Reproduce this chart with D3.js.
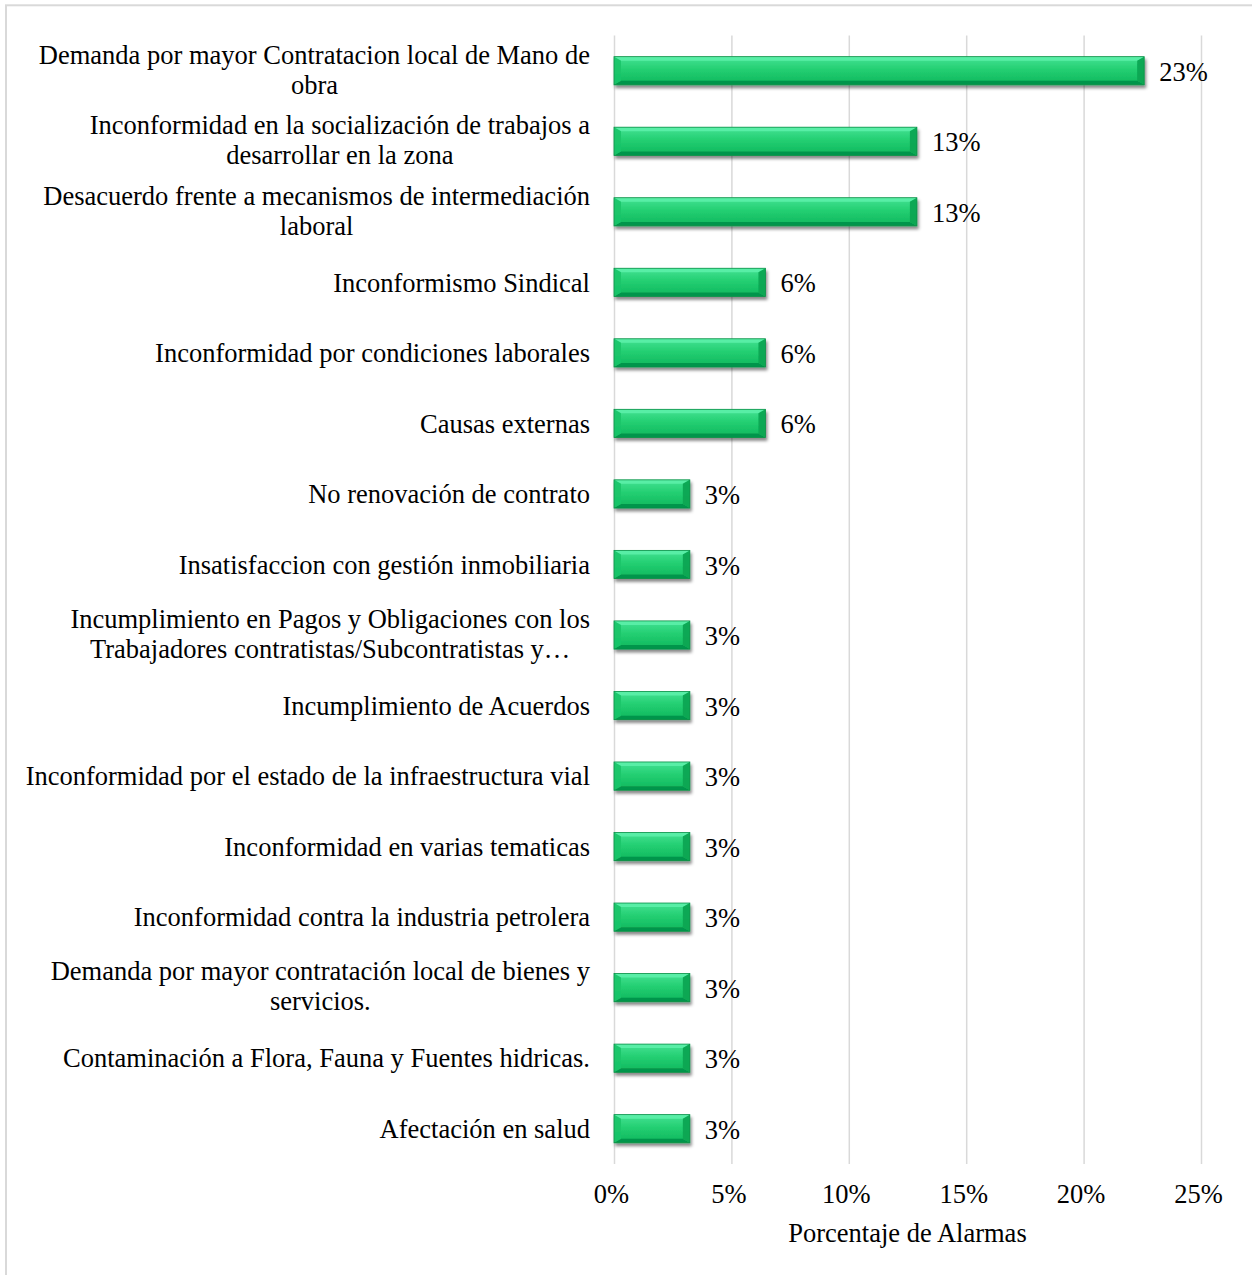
<!DOCTYPE html>
<html lang="es">
<head>
<meta charset="utf-8">
<title>Porcentaje de Alarmas</title>
<script src="https://cdn.jsdelivr.net/npm/d3@7/dist/d3.min.js"></script>
<style>
  html, body { margin: 0; padding: 0; background: #ffffff; }
  svg { display: block; }
  text { font-family: "Liberation Serif", "Times New Roman", Times, serif; fill: #000; }
</style>
</head>
<body>
<svg id="chart" width="1252" height="1275"></svg>
<script>
// Causes of alarms (top to bottom); "\n" marks a manual line break.
const categories = [
  "Demanda por mayor Contratacion local de Mano de\nobra",
  "Inconformidad en la socialización de trabajos a\ndesarrollar en la zona",
  "Desacuerdo frente a mecanismos de intermediación\nlaboral",
  "Inconformismo Sindical",
  "Inconformidad por condiciones laborales",
  "Causas externas",
  "No renovación de contrato",
  "Insatisfaccion con gestión inmobiliaria",
  "Incumplimiento en Pagos y Obligaciones con los\nTrabajadores contratistas/Subcontratistas y…",
  "Incumplimiento de Acuerdos",
  "Inconformidad por el estado de la infraestructura vial",
  "Inconformidad en varias tematicas",
  "Inconformidad contra la industria petrolera",
  "Demanda por mayor contratación local de bienes y\nservicios.",
  "Contaminación a Flora, Fauna y Fuentes hidricas.",
  "Afectación en salud"
];

// Share of alarms per cause, in percent
const percentages = [22.58, 12.90, 12.90, 6.45, 6.45, 6.45, 3.23, 3.23, 3.23, 3.23, 3.23, 3.23, 3.23, 3.23, 3.23, 3.23];

// Axis ticks (percent)
const xTicks = [0, 5, 10, 15, 20, 25];
const xTitle = "Porcentaje de Alarmas";

const svg = d3.select("#chart");
const FONT = 26.5;

// Plot frame
const plot = { left: 614, right: 1201, top: 35.5, bottom: 1164 };

const x = d3.scaleLinear().domain([0, 25]).range([plot.left, plot.right]);
const y = d3.scaleBand()
  .domain(d3.range(categories.length))
  .range([plot.top, plot.bottom])
  .paddingInner(0.6)
  .paddingOuter(0.3);

// Outer chart border
svg.append("rect")
  .attr("x", 6).attr("y", 5.3)
  .attr("width", 1270).attr("height", 1290)
  .attr("fill", "none")
  .attr("stroke", "#d9d9d9")
  .attr("stroke-width", 2);

// Definitions: face gradient and drop shadow for the bevelled bars
const defs = svg.append("defs");
const grad = defs.append("linearGradient")
  .attr("id", "barFace").attr("x1", 0).attr("y1", 0).attr("x2", 0).attr("y2", 1);
grad.append("stop").attr("offset", "0%").attr("stop-color", "#44e294");
grad.append("stop").attr("offset", "45%").attr("stop-color", "#24cf72");
grad.append("stop").attr("offset", "100%").attr("stop-color", "#0eb65c");

const shadow = defs.append("filter")
  .attr("id", "barShadow")
  .attr("x", "-10%").attr("y", "-30%").attr("width", "130%").attr("height", "180%");
shadow.append("feDropShadow")
  .attr("dx", 1.5).attr("dy", 3)
  .attr("stdDeviation", 1.8)
  .attr("flood-color", "#000")
  .attr("flood-opacity", 0.45);

// Vertical gridlines
const grid = d3.axisBottom(x)
  .tickValues(xTicks)
  .tickSize(-(plot.bottom - plot.top))
  .tickFormat("");
svg.append("g")
  .attr("transform", `translate(0,${plot.bottom})`)
  .call(grid)
  .call(g => g.select(".domain").remove())
  .call(g => g.selectAll("line").attr("stroke", "#d9d9d9").attr("stroke-width", 1.5));

// Tick labels
const axis = d3.axisBottom(x)
  .tickValues(xTicks)
  .tickSize(0)
  .tickPadding(0)
  .tickFormat(d => d + "%");
svg.append("g")
  .attr("transform", `translate(-3,${1203})`)
  .call(axis)
  .call(g => g.select(".domain").remove())
  .call(g => g.selectAll("text")
    .attr("y", 0).attr("dy", 0)
    .attr("font-size", FONT)
    .attr("font-family", "Liberation Serif, Times New Roman, serif")
    .attr("fill", "#000"));

// Axis title
svg.append("text")
  .attr("x", (plot.left + plot.right) / 2)
  .attr("y", 1242)
  .attr("text-anchor", "middle")
  .attr("font-size", FONT)
  .text(xTitle);

// Bars with a bevelled look
const bevelX = 7, bevelTop = 4, bevelBottom = 4;
const bars = svg.append("g").selectAll("g")
  .data(percentages)
  .join("g")
  .attr("filter", "url(#barShadow)");

bars.each(function (v, i) {
  const g = d3.select(this);
  const x0 = x(0), x1 = x(v);
  const y0 = y(i), y1 = y(i) + y.bandwidth();
  g.append("rect")
    .attr("x", x0).attr("y", y0)
    .attr("width", x1 - x0).attr("height", y1 - y0)
    .attr("fill", "url(#barFace)");
  const poly = (pts, fill, op) => g.append("polygon")
    .attr("points", pts.map(p => p.join(",")).join(" "))
    .attr("fill", fill).attr("opacity", op);
  // top facet
  poly([[x0, y0], [x1, y0], [x1 - bevelX, y0 + bevelTop], [x0 + bevelX, y0 + bevelTop]], "#5cf0a8", 0.9);
  // bottom facet
  poly([[x0, y1], [x1, y1], [x1 - bevelX, y1 - bevelBottom], [x0 + bevelX, y1 - bevelBottom]], "#05924a", 0.95);
  // left facet
  poly([[x0, y0], [x0 + bevelX, y0 + bevelTop], [x0 + bevelX, y1 - bevelBottom], [x0, y1]], "#1ac469", 0.9);
  // right facet
  poly([[x1, y0], [x1 - bevelX, y0 + bevelTop], [x1 - bevelX, y1 - bevelBottom], [x1, y1]], "#0aa552", 0.95);
  g.append("rect")
    .attr("x", x0).attr("y", y0)
    .attr("width", x1 - x0).attr("height", y1 - y0)
    .attr("fill", "none")
    .attr("stroke", "#0b8f47")
    .attr("stroke-width", 0.8);
});

// Value labels
svg.append("g").selectAll("text")
  .data(percentages)
  .join("text")
  .attr("x", d => x(d) + 15)
  .attr("y", (d, i) => y(i) + y.bandwidth() / 2)
  .attr("dy", "0.38em")
  .attr("font-size", FONT)
  .text(d => d3.format(".0f")(d) + "%");

// Category labels: block right-aligned to the plot, lines centred within the block
const labelRight = 590;
const lineGap = 30;
const labels = svg.append("g");
categories.forEach((c, i) => {
  const lines = c.split("\n");
  const cy = y(i) + y.bandwidth() / 2 - (lines.length > 1 ? 1.5 : 0);
  const t = labels.append("text")
    .attr("font-size", FONT)
    .attr("text-anchor", "middle");
  const spans = lines.map((ln, k) => t.append("tspan")
    .attr("dy", "0.35em")
    .text(ln));
  const widths = spans.map(s => s.node().getComputedTextLength());
  const maxW = d3.max(widths);
  const cx = labelRight - maxW / 2;
  spans.forEach((s, k) => {
    s.attr("x", cx)
     .attr("y", cy + (k - (lines.length - 1) / 2) * lineGap);
  });
});
</script>
</body>
</html>
